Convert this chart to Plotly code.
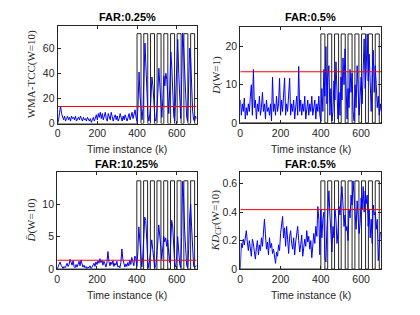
import plotly.graph_objects as go

# ---------------- data ----------------
k = list(range(0, 701, 5))

wma_tcc = [
    0, 3, 9, 14, 8, 5, 3, 6, 2, 4,
    6, 3, 5, 2, 6, 4, 5, 3, 6, 2,
    4, 5, 3, 6, 4, 2, 5, 3, 4, 2,
    5, 3, 2, 4, 1, 3, 5, 2, 4, 7,
    3, 8, 5, 9, 4, 8, 3, 6, 9, 4,
    2, 8, 5, 3, 9, 6, 2, 5, 7, 3,
    6, 2, 4, 8, 5, 2, 6, 3, 7, 4,
    2, 5, 8, 3, 6, 9, 4, 7, 11, 5,
    2, 14, 41, 22, 8, 3, 12, 50, 64, 45,
    20, 6, 2, 8, 20, 37, 30, 12, 4, 2,
    10, 25, 44, 30, 14, 5, 20, 38, 30, 40,
    35, 22, 8, 30, 57, 45, 20, 6, 2, 22,
    55, 67, 40, 15, 4, 35, 72, 60, 42, 20,
    5, 2, 30, 60, 52, 30, 10, 3, 2, 6,
    4,
]

d_w1 = [
    6, 2, 5, 3, 6.5, 1, 4, 2, 5, 3,
    7, 10, 2, 14, 4, 6, 1, 5, 3, 7,
    2, 4, 8, 3, 5, 1, 6, 3, 4, 2,
    5, 0.5, 12, 3, 5, 2, 7, 3, 5, 11.7,
    2, 6, 3, 8, 11.8, 2, 5, 3, 7, 11.7,
    2, 5, 3, 6, 1, 4, 7, 2, 14.8, 3,
    6, 2, 5, 3, 7, 1, 4, 6, 2, 5,
    3, 7, 2, 4, 6, 1, 5, 3, 7, 2,
    0.5, 9, 3, 14, 7, 20, 5, 12, 15, 2,
    9, 0.5, 3, 11, 6, 16, 4, 1, 8, 2,
    12, 6, 17, 10, 19.4, 5, 1, 9, 4, 14,
    8, 13, 3, 0.5, 10, 4, 15, 9, 2, 7,
    12, 5, 16, 22, 9, 14, 23.3, 11, 18, 7,
    3, 13, 19, 8, 15, 10, 4, 7, 2, 5,
    3,
]

d_bar_w10 = [
    0, 0.3, 0.8, 1.1, 0.6, 0.3, 0.1, 0.4, 0.2, 0.5,
    0.9, 0.4, 0.7, 1.5, 1.0, 0.6, 1.3, 0.4, 0.2, 0.7,
    0.3, 0.9, 1.2, 0.5, 1.4, 0.8, 0.3, 0.6, 0.2, 0.4,
    0.1, 0.3, 0.2, 0.5, 0.1, 0.3, 0.6, 0.9, 0.4, 1.1,
    0.7, 1.3, 0.9, 1.6, 1.0, 1.4, 0.6, 1.2, 0.8, 0.3,
    1.0, 2.7, 1.2, 0.5, 1.1, 0.7, 1.3, 0.4, 0.9, 0.6,
    1.2, 0.3, 0.5, 0.2, 1.0, 3.1, 1.5, 0.6, 0.3, 0.8,
    0.4, 1.0, 0.5, 1.4, 0.7, 1.8, 1.1, 0.5, 2.0, 1.6,
    0.5, 2.5, 6.5, 4.0, 1.5, 0.3, 2.0, 5.5, 8.0, 7.5,
    4.0, 1.2, 0.2, 1.5, 3.5, 4.5, 3.0, 1.0, 0.2, 0.5,
    2.0, 4.0, 6.8, 5.5, 3.5, 1.5, 3.0, 5.0, 4.2, 4.8,
    3.5, 4.5, 2.5, 1.0, 4.0, 7.5, 6.5, 3.0, 0.8, 0.3,
    2.0, 5.0, 2.5, 0.8, 0.2, 5.0, 13.5, 11.0, 6.0, 2.5,
    0.6, 0.2, 3.0, 8.0, 10.0, 6.5, 2.5, 0.5, 0.2, 0.4,
    0.6,
]

kd_cf_w10 = [
    0, 0.18, 0.15, 0.21, 0.17, 0.24, 0.27, 0.19, 0.13, 0.2,
    0.16, 0.09, 0.21, 0.18, 0.12, 0.07, 0.15, 0.2, 0.1, 0.17,
    0.13, 0.22, 0.16, 0.26, 0.35, 0.24, 0.14, 0.19, 0.1, 0.22,
    0.15, 0.18, 0.11, 0.14, 0.08, 0.04, 0.12, 0.09, 0.17, 0.13,
    0.25, 0.31, 0.37, 0.22, 0.29, 0.16, 0.3, 0.21, 0.11, 0.23,
    0.27, 0.18, 0.14, 0.22, 0.1, 0.19, 0.26, 0.3, 0.2, 0.12,
    0.17, 0.24, 0.09, 0.15, 0.21, 0.16, 0.27, 0.19, 0.23, 0.14,
    0.2, 0.08, 0.15, 0.25, 0.18, 0.3, 0.23, 0.44, 0.35, 0.1,
    0.42, 0.22, 0.35, 0.4, 0.08, 0.05, 0.28, 0.45, 0.55, 0.38,
    0.25, 0.12, 0.3, 0.22, 0.42, 0.35, 0.18, 0.26, 0.44, 0.38,
    0.5, 0.58, 0.45, 0.3, 0.38, 0.27, 0.3, 0.2, 0.42, 0.36,
    0.52, 0.45, 0.62, 0.5, 0.4, 0.28, 0.48, 0.35, 0.25, 0.32,
    0.5, 0.42, 0.58, 0.4, 0.55, 0.46, 0.52, 0.3, 0.42, 0.22,
    0.35, 0.18, 0.45, 0.38, 0.4, 0.28, 0.35, 0.06, 0.15, 0.26,
    0.25,
]

pulse_starts = [400, 434, 468, 501, 535, 569, 602, 636, 670]
pulse_ends = [420, 454, 488, 521, 555, 589, 622, 656, 690]

titles = ["FAR:0.25%", "FAR:0.5%", "FAR:10.25%", "FAR:0.5%"]
ylabels = ["WMA-TCC(W=10)", "<i>D</i>(W=1)", "<i>D\u0304</i>(W=10)",
           "<i>KD</i><sub><i>CF</i></sub>(W=10)"]
series = [wma_tcc, d_w1, d_bar_w10, kd_cf_w10]
thresholds = [13.6, 13.4, 1.36, 0.418]
pulse_heights = [71.5, 23.3, 13.6, 0.62]
y_max = [78, 25, 14.9, 0.68]
y_ticks = [[0, 20, 40, 60], [0, 10, 20], [0, 5, 10], [0, 0.2, 0.4, 0.6]]
x_ticks = [0, 200, 400, 600]
x_max = 700

# ---------------- layout geometry (pixels) ----------------
W, H = 420, 315
boxes = [  # left, right, top, bottom in pixels
    (55, 195, 26, 126),
    (239, 381, 28, 125.3),
    (54.5, 195, 175.7, 274.3),
    (239, 381, 175.7, 274.3),
]
title_y = [17, 17, 167, 167]
xlabel_y = [152, 152, 301, 301]
ylabel_x = [29, 215, 29, 214]

AX = "#262626"
SANS = "Liberation Sans, Arial, sans-serif"
SERIF = "Liberation Serif, Times New Roman, serif"

fig = go.Figure()
annotations = []
layout_axes = {}

for i in range(4):
    sfx = "" if i == 0 else str(i + 1)
    xa, ya = "x" + sfx, "y" + sfx
    # pulse (fault indicator) trace built from start/end lists
    px, py = [0], [0]
    hgt = pulse_heights[i]
    for s, e in zip(pulse_starts, pulse_ends):
        px += [s, s, e, e]
        py += [0, hgt, hgt, 0]
    px.append(x_max)
    py.append(0)
    fig.add_trace(go.Scatter(x=px, y=py, mode="lines", xaxis=xa, yaxis=ya,
                             line=dict(color="#262626", width=1), showlegend=False))
    fig.add_trace(go.Scatter(x=k, y=series[i], mode="lines", xaxis=xa, yaxis=ya,
                             line=dict(color="#0000FF", width=1), showlegend=False))
    fig.add_trace(go.Scatter(x=[0, x_max], y=[thresholds[i]] * 2, mode="lines",
                             xaxis=xa, yaxis=ya,
                             line=dict(color="#FF0000", width=1), showlegend=False))

    l, r, t, b = boxes[i]
    common = dict(showline=True, linecolor=AX, linewidth=1, mirror="ticks",
                  ticks="inside", ticklen=3, tickcolor=AX, tickwidth=1,
                  showgrid=False, zeroline=False,
                  tickfont=dict(family=SANS, size=10.5, color=AX))
    layout_axes["xaxis" + sfx] = dict(common, domain=[l / W, r / W], anchor=ya,
                                      range=[0, x_max], tickvals=x_ticks)
    layout_axes["yaxis" + sfx] = dict(common, domain=[1 - b / H, 1 - t / H], anchor=xa,
                                      range=[0, y_max[i]], tickvals=y_ticks[i])

    cx = (l + r) / 2
    cy = (t + b) / 2
    annotations.append(dict(text="<b>" + titles[i] + "</b>", x=cx / W, y=1 - title_y[i] / H,
                            xref="paper", yref="paper", showarrow=False,
                            xanchor="center", yanchor="middle",
                            font=dict(family=SANS, size=11, color="#000000")))
    annotations.append(dict(text="Time instance (k)", x=cx / W, y=1 - xlabel_y[i] / H,
                            xref="paper", yref="paper", showarrow=False,
                            xanchor="center", yanchor="middle",
                            font=dict(family=SANS, size=10.5, color=AX)))
    annotations.append(dict(text=ylabels[i], x=ylabel_x[i] / W, y=1 - cy / H,
                            xref="paper", yref="paper", showarrow=False, textangle=-90,
                            xanchor="center", yanchor="middle",
                            font=dict(family=SERIF, size=11, color=AX)))

fig.update_layout(width=W, height=H, margin=dict(l=0, r=0, t=0, b=0),
                  paper_bgcolor="white", plot_bgcolor="white",
                  annotations=annotations, **layout_axes)

fig.write_html("out.html", config={"displayModeBar": False},
               post_script="document.body.style.margin='0';document.body.style.overflow='hidden';")
